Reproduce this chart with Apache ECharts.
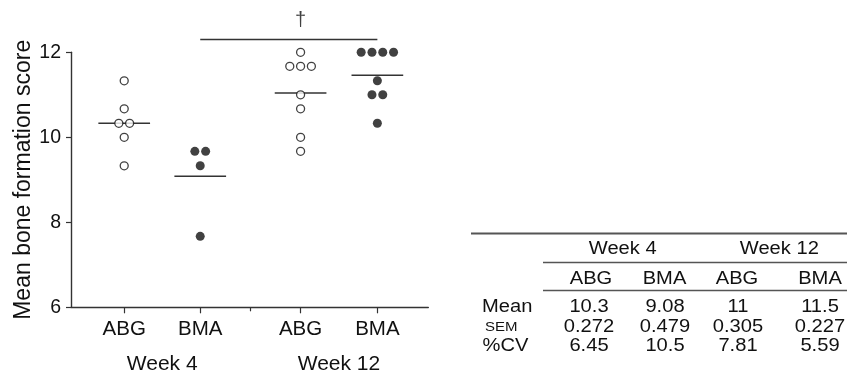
<!DOCTYPE html>
<html>
<head>
<meta charset="utf-8">
<script src="https://cdn.jsdelivr.net/npm/echarts@6/dist/echarts.min.js"></script>
<style>
  html, body { margin: 0; padding: 0; background: #fff; }
  #chart { width: 851px; height: 377px; }
</style>
</head>
<body>
<div id="chart"></div>
<script>
// ---- data ----
var groupLabels = ['ABG', 'BMA', 'ABG', 'BMA'];
var weekLabels = ['Week 4', 'Week 12'];
var groupPos = [1, 2, 3.32, 4.33];
var abgWeek4 = [11.33, 10.67, 10.33, 10.33, 10.0, 9.33];
var bmaWeek4 = [9.67, 9.67, 9.33, 7.67];
var abgWeek12 = [12.0, 11.67, 11.67, 11.67, 11.0, 10.67, 10.0, 9.67];
var bmaWeek12 = [12.0, 12.0, 12.0, 12.0, 11.33, 11.0, 11.0, 10.33];
var yTicks = [6, 8, 10, 12];
var tableRowLabels = ['Mean', 'SEM', '%CV'];
var tableMean = ['10.3', '9.08', '11', '11.5'];
var tableSEM = ['0.272', '0.479', '0.305', '0.227'];
var tableCV = ['6.45', '10.5', '7.81', '5.59'];
var significanceMark = '\u2020';

// ---- build ----
var groups = [abgWeek4, bmaWeek4, abgWeek12, bmaWeek12];
var filled = [false, true, false, true];
var FONT = 'Liberation Sans, Arial, Helvetica, sans-serif';
var INK = '#111';
var LINE = '#333';
var SPACING = 0.142;
var HALF = 0.34;

function swarm(vals, center) {
  var counts = {}, idx = {}, out = [];
  vals.forEach(function (v) { counts[v] = (counts[v] || 0) + 1; });
  vals.forEach(function (v) {
    var i = idx[v] || 0; idx[v] = i + 1;
    var off = (i - (counts[v] - 1) / 2) * SPACING;
    out.push([center + off, v]);
  });
  return out;
}
function mean(a) { return a.reduce(function (s, v) { return s + v; }, 0) / a.length; }

var series = [];
groups.forEach(function (g, k) {
  var m = mean(g);
  series.push({
    type: 'line', silent: true, z: 1, showSymbol: false, symbol: 'none',
    lineStyle: { color: LINE, width: 1.5 },
    data: [[groupPos[k] - HALF, m], [groupPos[k] + HALF, m]],
    animation: false
  });
});
groups.forEach(function (g, k) {
  series.push({
    type: 'scatter', z: 3, clip: false, silent: true,
    symbol: 'circle',
    symbolSize: filled[k] ? 9 : 8,
    itemStyle: filled[k]
      ? { color: '#111', borderColor: '#111', borderWidth: 0 }
      : { color: '#fff', borderColor: '#111', borderWidth: 1.3 },
    data: swarm(g, groupPos[k]),
    animation: false
  });
});
var yMax = yTicks[yTicks.length - 1];
var bracketY = yMax + 0.3;
series.push({
  type: 'line', silent: true, clip: false, z: 2, symbol: 'none', showSymbol: false,
  lineStyle: { color: LINE, width: 1.4 },
  data: [[groupPos[1], bracketY], [groupPos[3], bracketY]],
  animation: false
});
series.push({
  type: 'scatter', silent: true, clip: false, symbolSize: 0,
  data: [[groupPos[2], bracketY]],
  label: { show: true, position: 'top', distance: 9, formatter: significanceMark,
    fontSize: 20, lineHeight: 20, color: INK, fontFamily: FONT },
  animation: false
});

function nearestIdx(v, arr) {
  var best = 0;
  for (var i = 1; i < arr.length; i++) if (Math.abs(arr[i] - v) < Math.abs(arr[best] - v)) best = i;
  return best;
}
var weekCenters = [(groupPos[0] + groupPos[1]) / 2, (groupPos[2] + groupPos[3]) / 2];
var midTick = (groupPos[1] + groupPos[2]) / 2;

// ---- table graphics ----
var T = {
  left: 471, right: 847, sub: 543,
  topRule: 233.5, weekY: 249.5, rule2: 262.5, groupY: 278.7, rule3: 290.5,
  rowY: [307.5, 327.3, 346.5],
  weekX: [622.7, 779.3],
  colX: [591, 664.5, 737, 820],
  valX: [589, 665, 738, 820],
  labelX: [482, 485, 482.5]
};
var SX = 1.15;
function txt(text, x, y, size, align, sx) {
  return { type: 'text', x: x, y: y, scaleX: sx || SX, silent: true,
    style: { text: text, fontSize: size, fontFamily: FONT, fill: INK,
      align: align || 'center', verticalAlign: 'middle' } };
}
function rule(x1, x2, y, w) {
  return { type: 'line', silent: true,
    shape: { x1: x1, y1: y, x2: x2, y2: y },
    style: { stroke: '#555', lineWidth: w } };
}
var graphics = [
  rule(T.left, T.right, T.topRule, 2),
  rule(T.sub, T.right, T.rule2, 1.6),
  rule(T.sub, T.right, T.rule3, 1.6)
];
weekLabels.forEach(function (w, i) { graphics.push(txt(w, T.weekX[i], T.weekY, 17.5)); });
groupLabels.forEach(function (g, i) { graphics.push(txt(g, T.colX[i], T.groupY, 17.5)); });
var rows = [tableMean, tableSEM, tableCV];
tableRowLabels.forEach(function (lab, r) {
  var small = lab === 'SEM';
  graphics.push(txt(lab, T.labelX[r], T.rowY[r], small ? 12.5 : 17.5, 'left', small ? 1.2 : SX));
  rows[r].forEach(function (v, c) { graphics.push(txt(String(v), T.valX[c], T.rowY[r], 17.5)); });
});

var chart = echarts.init(document.getElementById('chart'), null, { renderer: 'canvas' });
chart.setOption({
  backgroundColor: '#fff',
  animation: false,
  grid: { left: 71, right: 422.7, top: 52.3, bottom: 69.7, containLabel: false, outerBoundsMode: 'none' },
  xAxis: [{
    type: 'value', min: 0.3, max: 5.0, position: 'bottom',
    splitLine: { show: false },
    axisLine: { show: true, onZero: false, lineStyle: { color: LINE, width: 1.4 } },
    axisTick: { show: true, customValues: groupPos, length: 6, lineStyle: { color: LINE, width: 1.2 } },
    axisLabel: { show: true, customValues: groupPos, margin: 12, fontSize: 20.5, color: INK, fontFamily: FONT,
      formatter: function (v) { return groupLabels[nearestIdx(v, groupPos)]; } }
  }, {
    type: 'value', min: 0.3, max: 5.0, position: 'bottom',
    splitLine: { show: false },
    axisLine: { show: false },
    axisTick: { show: true, customValues: [midTick], length: 4, lineStyle: { color: LINE, width: 1.2 } },
    axisLabel: { show: true, customValues: weekCenters, margin: 46, fontSize: 21, color: INK, fontFamily: FONT,
      formatter: function (v) { return weekLabels[nearestIdx(v, weekCenters)]; } }
  }],
  yAxis: {
    type: 'value', min: yTicks[0], max: yMax, interval: 2,
    name: 'Mean bone formation score', nameLocation: 'middle', nameGap: 34, nameRotate: 90,
    nameTextStyle: { fontSize: 23, color: INK, fontFamily: FONT },
    splitLine: { show: false },
    axisLine: { show: true, lineStyle: { color: LINE, width: 1.4 } },
    axisTick: { show: true, length: 5, lineStyle: { color: LINE, width: 1.2 } },
    axisLabel: { margin: 10, fontSize: 19.5, color: INK, fontFamily: FONT }
  },
  series: series,
  graphic: graphics
});
</script>
</body>
</html>
